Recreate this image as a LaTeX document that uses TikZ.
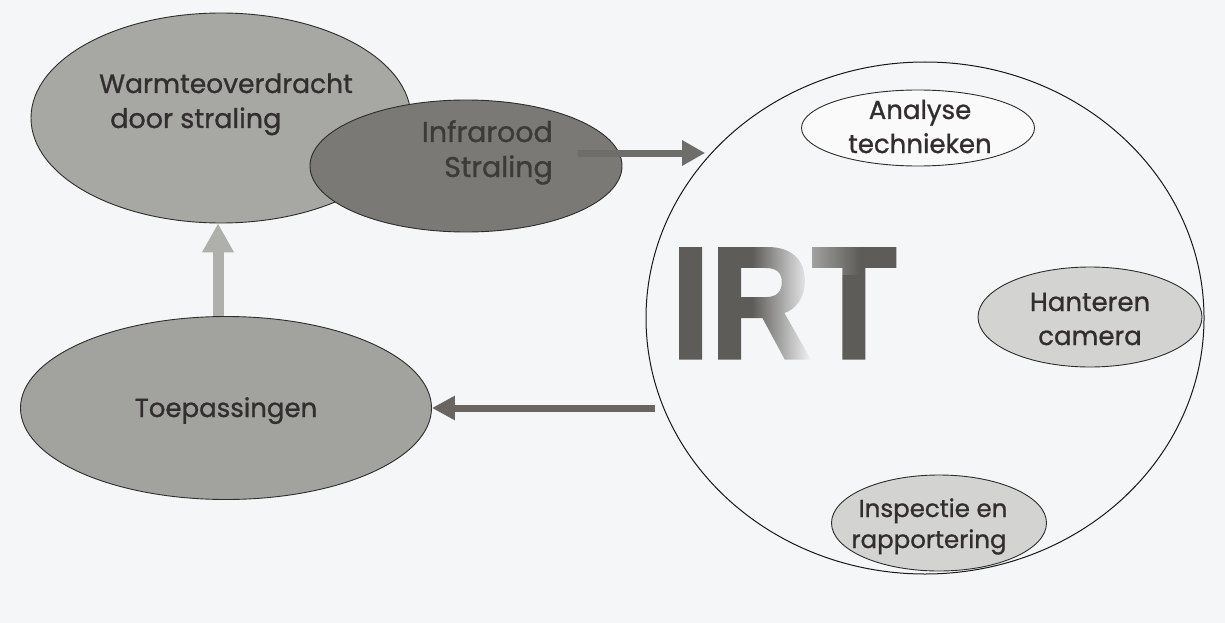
\documentclass[tikz,border=0pt]{standalone}
\usepackage{fontspec}
\setmainfont{Poppins}[FakeBold=1]
\setsansfont{Liberation Sans}[BoldFeatures={FakeBold=2}]
\usetikzlibrary{shapes.geometric,arrows.meta,fadings,calc}

\definecolor{paper}{HTML}{F5F6F8}
\definecolor{edge}{HTML}{2D2D2B}
\definecolor{ink}{HTML}{302F2D}
\definecolor{warmfill}{HTML}{A7A7A3}
\definecolor{infrafill}{HTML}{7A7975}
\definecolor{infraink}{HTML}{3C3B38}
\definecolor{toepfill}{HTML}{A2A29E}
\definecolor{lightfill}{HTML}{D3D3D1}
\definecolor{whitefill}{HTML}{FAFAFA}
\definecolor{arrowdark}{HTML}{6E6D69}
\definecolor{arrowleft}{HTML}{6A6561}
\definecolor{arrowlight}{HTML}{AFAFAB}
\definecolor{irtgrey}{HTML}{5D5C58}

% the right half of the R dissolves into the paper
\tikzfading[name=rfade, left color=transparent!100, right color=transparent!0]
% a soft highlight on the upper left of the T
\tikzfading[name=tfade, left color=transparent!55, right color=transparent!100]

\begin{document}
\begin{tikzpicture}[x=1pt,y=-1pt,
  blob/.style={ellipse, draw=edge, line width=0.9pt, inner sep=0pt},
  lbl/.style={anchor=base, inner sep=0pt, text=ink, font=\fontsize{26}{30}\selectfont},
  fatarrow/.style={line width=7pt},
]
\fill[paper] (0,0) rectangle (1225,623);
\useasboundingbox (0,0) rectangle (1225,623);

% left-hand cycle
\node[blob, fill=warmfill, minimum width=380pt, minimum height=210pt] (warm) at (221,118) {};
\node[lbl, anchor=base west, font=\fontsize{26.5}{30}\selectfont] (warmA) at (99,93) {Warmteoverdracht};
\node[lbl, anchor=base west, font=\fontsize{27}{30}\selectfont] (warmB) at (110,128) {door straling};

\node[blob, fill=infrafill, minimum width=312pt, minimum height=132pt] (infra) at (466,166) {};
\node[lbl, anchor=base east, text=infraink, font=\fontsize{28.5}{30}\selectfont] (infraA) at (553,142) {Infrarood};
\node[lbl, anchor=base east, text=infraink, font=\fontsize{28.5}{30}\selectfont] (infraB) at (553,177) {Straling};

\node[blob, fill=toepfill, minimum width=411pt, minimum height=183pt] (toep) at (226,408) {};
\node[lbl] (toepA) at (226,417) {Toepassingen};

% the IRT domain
\node[ellipse, draw=black!90, line width=1pt, minimum width=558pt, minimum height=512pt, inner sep=0pt] (irt) at (925,318) {};
\node[anchor=base west, inner sep=0pt, text=irtgrey, xscale=0.88,
      font=\sffamily\bfseries\fontsize{159}{159}\selectfont] (irtword) at (671,358) {IRT};
\fill[paper, path fading=rfade] (752,238) rectangle (812,364);
\fill[paper, path fading=tfade] (812,240) rectangle (860,275);

\node[blob, fill=whitefill, minimum width=233pt, minimum height=76pt] (anal) at (918,128) {};
\node[lbl] (analA) at (920,119) {Analyse};
\node[lbl] (analB) at (920,153) {technieken};

\node[blob, fill=lightfill, minimum width=224pt, minimum height=100pt] (hant) at (1090,317) {};
\node[lbl] (hantA) at (1090,311) {Hanteren};
\node[lbl] (hantB) at (1090,345) {camera};

\node[blob, fill=lightfill, minimum width=215pt, minimum height=96pt] (insp) at (939,523) {};
\node[lbl, font=\fontsize{24.5}{28}\selectfont] (inspA) at (933,517) {Inspectie en};
\node[lbl, font=\fontsize{24.5}{28}\selectfont] (inspB) at (929,548) {rapportering};

% connectors
\coordinate (rayfoot) at ($(infra.east)+(-44,-13)$);
\draw[fatarrow, arrowdark, shorten >=7pt, -{Triangle[length=23pt,width=24pt]}]
  (rayfoot) -- (rayfoot -| irt.142.2);
\draw[fatarrow, arrowleft, -{Triangle[length=23pt,width=23pt]}]
  ($(toep.east -| irt.199)+(-8,0)$) -- (toep.east);
\draw[line width=11pt, arrowlight, -{Triangle[length=29pt,width=30pt]}]
  ([xshift=-8pt]toep.north) -- ([xshift=-8pt]toep.north |- warm.south);
\end{tikzpicture}
\end{document}
